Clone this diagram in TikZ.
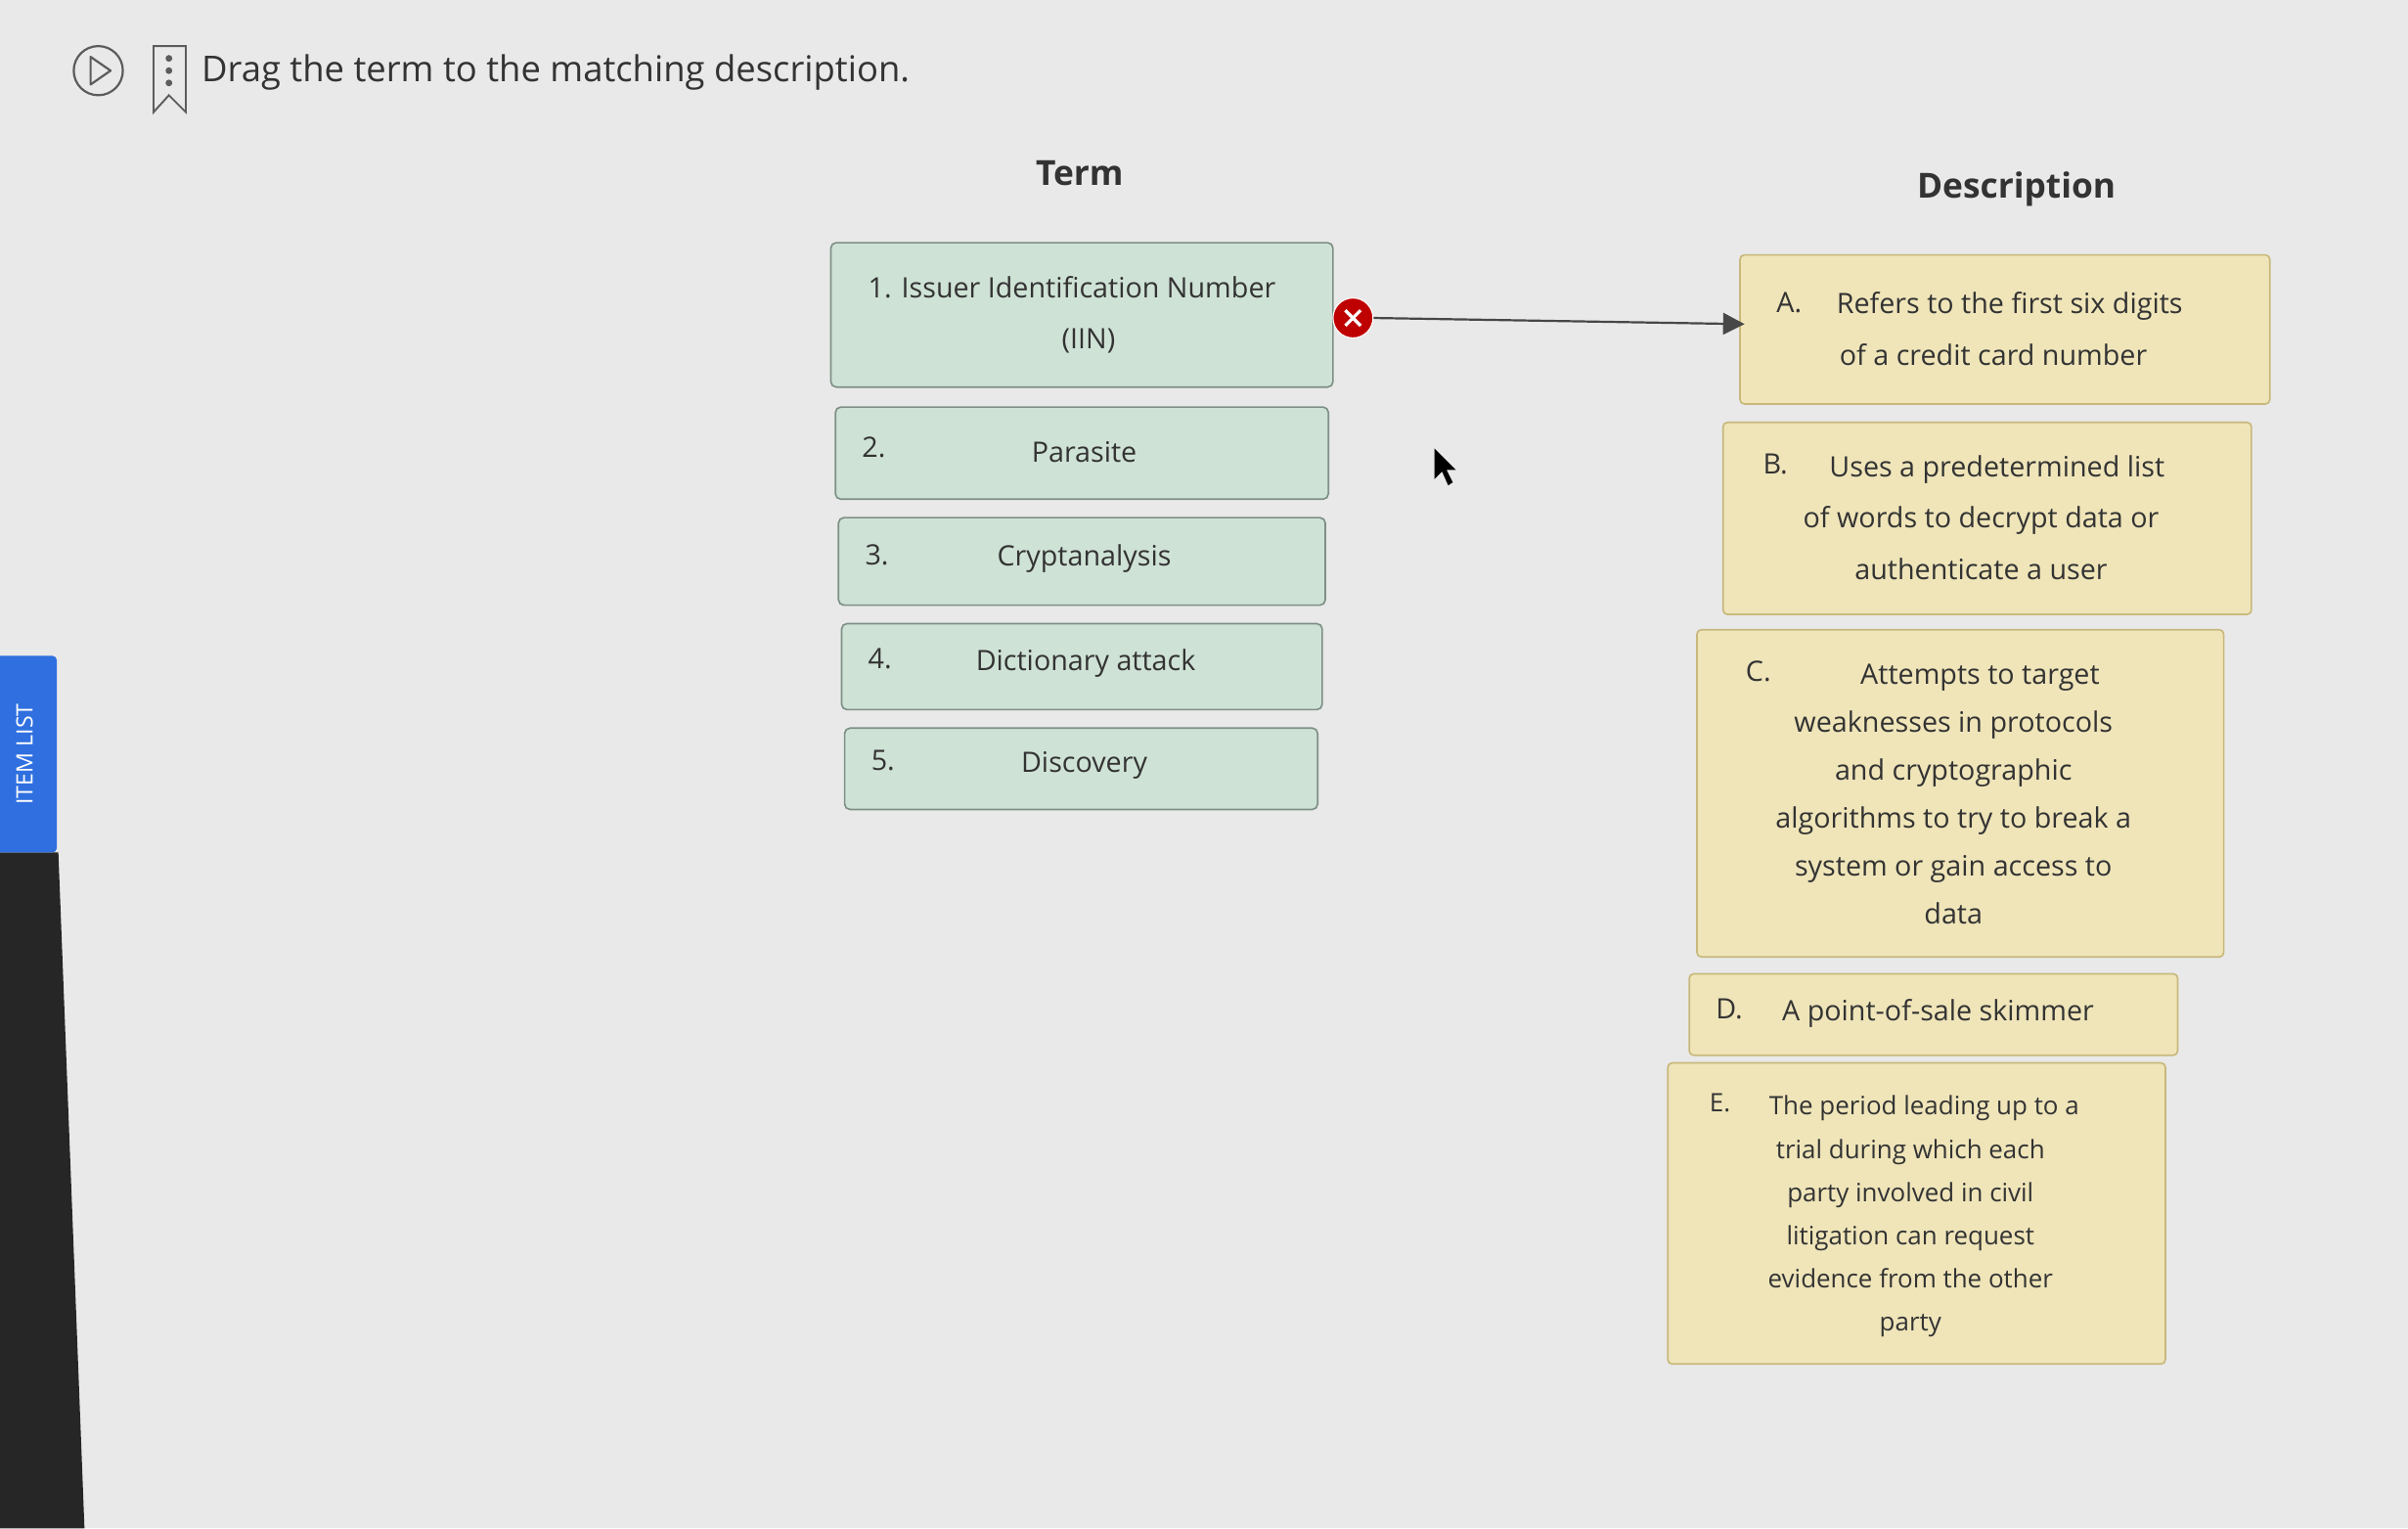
\documentclass[tikz,border=0pt]{standalone}
\usepackage{fontspec}
\setmainfont{Open Sans}
\usetikzlibrary{arrows.meta}
\definecolor{bg}{HTML}{E9E9E9}
\definecolor{tfill}{HTML}{CFE2D6}
\definecolor{tdraw}{HTML}{7E9086}
\definecolor{dfill}{HTML}{EFE5B9}
\definecolor{ddraw}{HTML}{C8B87C}
\definecolor{txt}{HTML}{333333}
\definecolor{tab}{HTML}{2F6FE0}
\begin{document}
\begin{tikzpicture}[x=1mm,y=-1mm,
 termbox/.style={draw=tdraw,fill=tfill,line width=3pt,rounded corners=10pt},
 descbox/.style={draw=ddraw,fill=dfill,line width=3pt,rounded corners=8pt},
 lab/.style={text=txt,font=\fontsize{52}{95}\selectfont,align=center},
 small/.style={text=txt,font=\fontsize{47}{80}\selectfont,align=center}]
\useasboundingbox (0,0) rectangle (1568,995);
\fill[bg] (0,0) rectangle (1568,995);
\fill[black!85] (0,555) -- (38,555) -- (55,995) -- (0,995) -- cycle;
\fill[tab,rounded corners=8pt] (-10,427) rectangle (37,555);
\node[rotate=90,text=white,font=\fontsize{42}{50}\selectfont] (tabl) at (16,491) {ITEM LIST};
% header icons
\draw[txt!80,line width=4pt] (64,46) circle (16);
\draw[txt!80,line width=4pt,line join=round] (59,37) -- (72,46) -- (59,55) -- cycle;
\draw[txt!80,line width=3.5pt] (100,30) -- (121,30) -- (121,73) -- (110,62) -- (100,73) -- cycle;
\foreach \yy in {38,46,54} \fill[txt!80] (110,\yy) circle (2.2);
\node[anchor=west,text=txt,font=\fontsize{66}{80}\selectfont] (title) at (130,47) {Drag the term to the matching description.};
\node[text=txt,font=\bfseries\fontsize{64}{80}\selectfont] (th) at (703,113) {Term};
\node[text=txt,font=\bfseries\fontsize{64}{80}\selectfont] (dh) at (1313,123) {Description};
% terms
\draw[termbox] (541,158) rectangle (868,252);
\node[lab] (t1) at (698,205) {1. Issuer Identification Number\\\hphantom{1. }(IIN)};
\draw[termbox] (544,265) rectangle (865,325);
\node[lab] at (569,291) {2.}; \node[lab] (t2) at (706,294) {Parasite};
\draw[termbox] (546,337) rectangle (863,394);
\node[lab] at (571,361) {3.}; \node[lab] (t3) at (706,364) {Cryptanalysis};
\draw[termbox] (548,406) rectangle (861,462);
\node[lab] at (573,429) {4.}; \node[lab] (t4) at (707,432) {Dictionary attack};
\draw[termbox] (550,474) rectangle (858,527);
\node[lab] at (575,495) {5.}; \node[lab] (t5) at (706,498) {Discovery};
% descriptions
\draw[descbox] (1133,166) rectangle (1478,263);
\node[lab] at (1165,197) {A.};
\node[lab] (dA) at (1298,214) {\hphantom{A.\ }Refers to the first six digits\\of a credit card number};
\draw[descbox] (1122,275) rectangle (1466,400);
\node[lab] at (1156,302) {B.};
\node[lab] (dB) at (1290,337) {\hphantom{B.\ }Uses a predetermined list\\of words to decrypt data or\\authenticate a user};
\draw[descbox] (1105,410) rectangle (1448,623);
\node[lab] at (1145,437) {C.};
\node[lab,font=\fontsize{52}{89}\selectfont] (dC) at (1272,517) {\hphantom{C.\quad}Attempts to target\\weaknesses in protocols\\and cryptographic\\algorithms to try to break a\\system or gain access to\\data};
\draw[descbox] (1100,634) rectangle (1418,687);
\node[lab] at (1126,657) {D.};
\node[lab] (dD) at (1262,660) {A point-of-sale skimmer};
\draw[descbox] (1086,692) rectangle (1410,888);
\node[small] at (1120,718) {E.};
\node[small] (dE) at (1244,792) {\hphantom{E.\ }The period leading up to a\\trial during which each\\party involved in civil\\litigation can request\\evidence from the other\\party};
% connector
\node[circle,fill=red!75!black,draw=white,line width=2pt,minimum size=26mm,inner sep=0] (x) at (881,207) {};
\draw[white,line width=6pt] (876,202) -- (886,212) (876,212) -- (886,202);
\coordinate (aend) at (1136,211);
\draw[txt!90,line width=4pt,-{Triangle[length=14mm,width=14mm]}] (x.east) -- (aend);
% cursor
\fill[black] (934,292) -- (934,312) -- (939,307) -- (943,316) -- (946,314) -- (942,306) -- (948,306) -- cycle;
\end{tikzpicture}
\end{document}
